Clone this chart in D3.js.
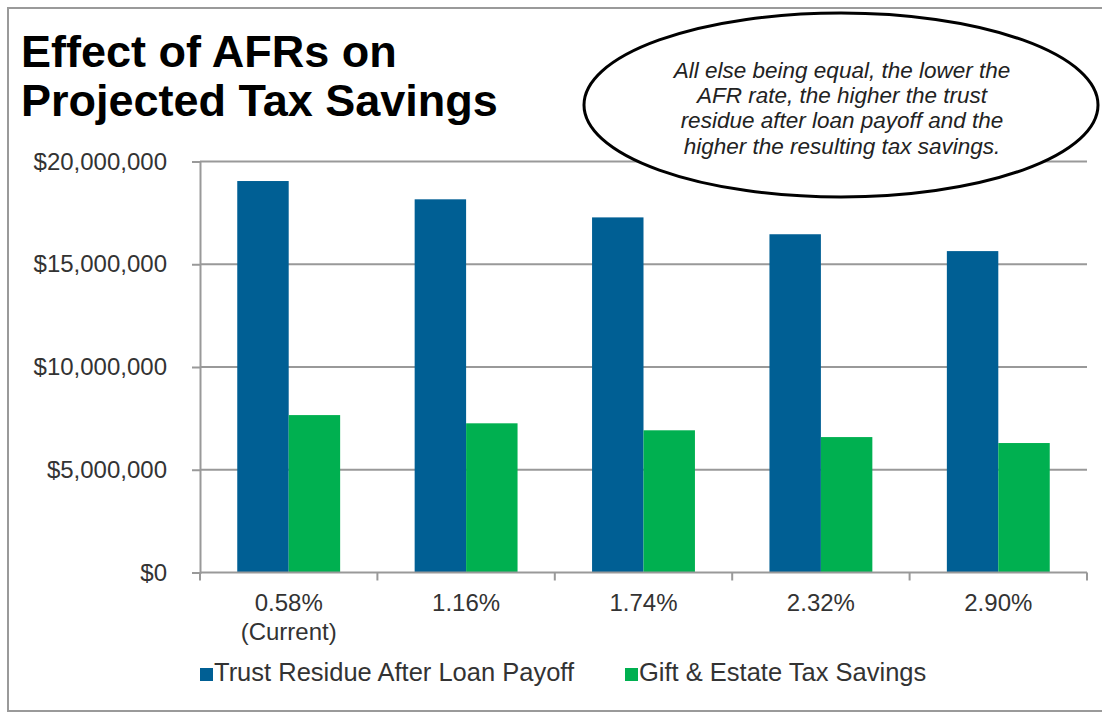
<!DOCTYPE html>
<html>
<head>
<meta charset="utf-8">
<script src="https://cdn.jsdelivr.net/npm/d3@7"></script>
<style>
  body { margin: 0; background: #fff; }
  svg { display: block; font-family: "Liberation Sans", Arial, sans-serif; }
</style>
</head>
<body>
<svg width="1102" height="713"></svg>
<script>
// chart data
var rates = ["0.58%", "1.16%", "1.74%", "2.32%", "2.90%"];
var rateNotes = ["(Current)", "", "", "", ""];
var seriesNames = ["Trust Residue After Loan Payoff", "Gift & Estate Tax Savings"];
var trustResidue = [19050000, 18160000, 17280000, 16460000, 15640000];
var taxSavings = [7660000, 7260000, 6920000, 6590000, 6300000];
var yTicks = [0, 5000000, 10000000, 15000000, 20000000];
var titleLines = ["Effect of AFRs on", "Projected Tax Savings"];
var noteLines = ["All else being equal, the lower the", "AFR rate, the higher the trust",
                 "residue after loan payoff and the", "higher the resulting tax savings."];

var colors = ["#005f94", "#00b050"];

var svg = d3.select("svg");

// outer frame
svg.append("rect")
    .attr("x", 8).attr("y", 8)
    .attr("width", 1100).attr("height", 703)
    .attr("fill", "none")
    .attr("stroke", "#9a9a9a")
    .attr("stroke-width", 2);

var plot = { left: 200, right: 1087, top: 161.5, bottom: 572.5 };

var x = d3.scaleBand()
    .domain(rates)
    .range([plot.left, plot.right])
    .padding(0);

var inner = d3.scaleBand()
    .domain([0, 1])
    .range([x.bandwidth() * 0.21, x.bandwidth() * 0.79]);

var y = d3.scaleLinear()
    .domain([0, 20000000])
    .range([plot.bottom, plot.top]);

var fmt = function(d) { return "$" + d3.format(",")(d); };

// gridlines
svg.append("g")
    .selectAll("line")
    .data(yTicks.filter(function(d) { return d > 0; }))
    .enter().append("line")
      .attr("x1", plot.left).attr("x2", plot.right)
      .attr("y1", function(d) { return y(d); })
      .attr("y2", function(d) { return y(d); })
      .attr("stroke", "#999")
      .attr("stroke-width", 2);

// y axis
var yAxis = svg.append("g")
    .attr("transform", "translate(" + plot.left + ",0)")
    .call(d3.axisLeft(y).tickValues(yTicks).tickFormat(fmt).tickSize(8).tickPadding(25));
yAxis.selectAll("path, line").attr("stroke", "#999").attr("stroke-width", 2);
yAxis.selectAll("text")
    .attr("font-size", 24)
    .attr("font-family", "Liberation Sans, Arial, sans-serif")
    .attr("fill", "#333");

// bars
var groups = svg.append("g")
    .selectAll("g")
    .data(rates)
    .enter().append("g")
      .attr("transform", function(d) { return "translate(" + x(d) + ",0)"; });

groups.selectAll("rect")
    .data(function(d, i) { return [trustResidue[i], taxSavings[i]]; })
    .enter().append("rect")
      .attr("x", function(d, j) { return inner(j); })
      .attr("width", inner.bandwidth())
      .attr("y", function(d) { return y(d); })
      .attr("height", function(d) { return y(0) - y(d); })
      .attr("fill", function(d, j) { return colors[j]; });

// x axis
var xAxis = svg.append("g")
    .attr("transform", "translate(0," + plot.bottom + ")");
xAxis.append("line")
    .attr("x1", plot.left).attr("x2", plot.right)
    .attr("stroke", "#999").attr("stroke-width", 2);
xAxis.selectAll(".tick")
    .data(rates.concat(["end"]))
    .enter().append("line")
      .attr("x1", function(d, i) { return plot.left + i * x.step(); })
      .attr("x2", function(d, i) { return plot.left + i * x.step(); })
      .attr("y1", 0).attr("y2", 8)
      .attr("stroke", "#999").attr("stroke-width", 2);

var xLabels = xAxis.selectAll(".xl")
    .data(rates)
    .enter().append("text")
      .attr("text-anchor", "middle")
      .attr("font-size", 24)
      .attr("fill", "#333")
      .attr("transform", function(d) { return "translate(" + (x(d) + x.bandwidth() / 2) + ",38)"; });
xLabels.append("tspan").attr("x", 0).attr("y", 0).text(function(d) { return d; });
xLabels.append("tspan").attr("x", 0).attr("y", 29)
    .text(function(d, i) { return rateNotes[i]; });

// legend
var legendX = [200, 625];
var legend = svg.append("g")
    .selectAll("g")
    .data(seriesNames)
    .enter().append("g")
      .attr("transform", function(d, i) { return "translate(" + legendX[i] + ",668)"; });
legend.append("rect")
    .attr("width", 13).attr("height", 13)
    .attr("fill", function(d, i) { return colors[i]; });
legend.append("text")
    .attr("x", 14).attr("y", 13)
    .attr("font-size", 25.5)
    .attr("fill", "#333")
    .text(function(d) { return d; });

// title
svg.append("g")
    .selectAll("text")
    .data(titleLines)
    .enter().append("text")
      .attr("x", 21)
      .attr("y", function(d, i) { return 67 + i * 49; })
      .attr("font-size", 45)
      .attr("font-weight", "bold")
      .attr("fill", "#000")
      .text(function(d) { return d; });

// callout
svg.append("ellipse")
    .attr("cx", 841).attr("cy", 105)
    .attr("rx", 257).attr("ry", 92)
    .attr("fill", "#fff")
    .attr("stroke", "#000")
    .attr("stroke-width", 3);

svg.append("g")
    .selectAll("text")
    .data(noteLines)
    .enter().append("text")
      .attr("x", 842)
      .attr("y", function(d, i) { return 78 + i * 25.2; })
      .attr("text-anchor", "middle")
      .attr("font-size", 22.5)
      .attr("font-style", "italic")
      .attr("fill", "#222")
      .text(function(d) { return d; });
</script>
</body>
</html>
